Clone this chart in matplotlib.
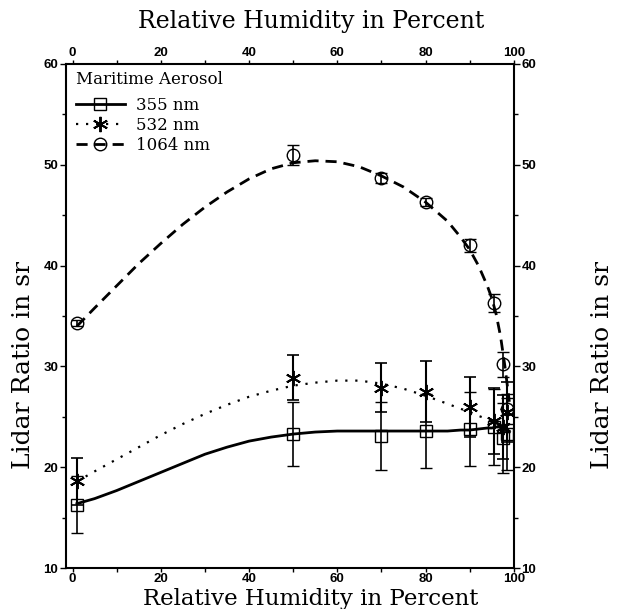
import matplotlib
matplotlib.use("Agg")
import matplotlib.pyplot as plt
from matplotlib.ticker import MultipleLocator

# Messpunkte (Relative Feuchte in %, Lidar-Verhältnis in sr)
rh_355 = [1, 50, 70, 80, 90, 95.5, 97.5, 98.5]
lr_355 = [16.3, 23.3, 23.1, 23.6, 23.8, 24.0, 22.9, 23.3]
err_355 = [2.8, 3.2, 3.4, 3.7, 3.7, 3.8, 3.5, 3.6]

rh_532 = [1, 50, 70, 80, 90, 95.5, 97.5, 98.5]
lr_532 = [18.6, 28.9, 27.9, 27.5, 26.0, 24.6, 24.0, 25.5]
err_532 = [2.3, 2.2, 2.4, 3.0, 3.0, 3.3, 3.2, 3.0]

rh_1064 = [1, 50, 70, 80, 90, 95.5, 97.5, 98.5]
lr_1064 = [34.3, 51.0, 48.7, 46.3, 42.0, 36.3, 30.2, 25.8]
err_1064 = [0.3, 1.0, 0.5, 0.4, 0.6, 0.9, 1.2, 1.5]

# Ausgleichskurven
fit_x = [1, 5, 10, 15, 20, 25, 30, 35, 40, 45, 50, 55, 60, 65, 70, 75, 80, 85, 88, 90, 92, 94, 95, 96, 97, 98, 99]
fit_355 = [16.4, 16.9, 17.7, 18.6, 19.5, 20.4, 21.3, 22.0, 22.6, 23.0, 23.3, 23.5, 23.6, 23.6, 23.6, 23.6, 23.6, 23.6,
           23.7, 23.7, 23.8, 23.9, 23.9, 24.0, 24.0, 23.8, 23.5]
fit_532 = [18.6, 19.6, 20.8, 22.0, 23.2, 24.3, 25.3, 26.2, 27.0, 27.6, 28.1, 28.4, 28.6, 28.6, 28.3, 27.8, 27.1, 26.3,
           25.8, 25.5, 25.1, 24.8, 24.6, 24.4, 24.0, 23.7, 23.3]
fit_1064 = [34.0, 35.8, 38.0, 40.2, 42.2, 44.1, 45.8, 47.3, 48.6, 49.6, 50.2, 50.4, 50.3, 49.8, 48.9, 47.8, 46.3, 44.4,
            42.8, 41.6, 40.0, 38.0, 36.8, 35.2, 33.0, 30.0, 26.5]

serif = "DejaVu Serif"
fig = plt.figure(figsize=(6.22, 6.09), dpi=100)
ax = fig.add_axes([0.106, 0.067, 0.72, 0.828])

ax.plot(fit_x, fit_355, color="black", lw=2.0, ls="-")
ax.plot(fit_x, fit_532, color="black", lw=1.6, ls=(0, (1, 3.5)))
ax.plot(fit_x, fit_1064, color="black", lw=2.0, ls=(0, (4, 2.5)))

ax.errorbar(rh_355, lr_355, yerr=err_355, fmt="s", ms=9, mfc="none", mec="black", mew=1.0,
            ecolor="black", elinewidth=1.2, capsize=4, capthick=1.2)
ax.errorbar(rh_532, lr_532, yerr=err_532, fmt="none", ecolor="black", elinewidth=1.5, capsize=4, capthick=1.2)
ax.plot(rh_532, lr_532, ls="none", marker=(6, 2, 0), ms=11, mec="black", mew=1.4)
ax.errorbar(rh_1064, lr_1064, yerr=err_1064, fmt="o", ms=9, mfc="none", mec="black", mew=1.0,
            ecolor="black", elinewidth=1.2, capsize=4, capthick=1.2)

# Legende
h1, = ax.plot([], [], color="black", lw=2.0, marker="s", ms=9, mfc="none", mec="black")
h2, = ax.plot([], [], color="black", lw=1.6, ls=(0, (1, 3.5)), marker=(6, 2, 0), ms=11, mew=1.4)
h3, = ax.plot([], [], color="black", lw=2.0, ls=(0, (4, 2.5)), marker="o", ms=9, mfc="none", mec="black")
leg = ax.legend([h1, h2, h3], ["355 nm", "532 nm", "1064 nm"], loc="upper left", frameon=False,
                title="Maritime Aerosol", handlelength=2.9, handletextpad=0.7,
                bbox_to_anchor=(-0.003, 1.01), borderaxespad=0.3,
                prop={"family": serif, "size": 12}, labelspacing=0.16)
leg.get_title().set_fontfamily(serif)
leg.get_title().set_fontsize(12)
leg._legend_box.align = "left"
leg._legend_box.sep = 7

ax.set_xlim(-1.5, 100)
ax.set_ylim(10, 60)
ax.xaxis.set_major_locator(MultipleLocator(20))
ax.xaxis.set_minor_locator(MultipleLocator(10))
ax.yaxis.set_major_locator(MultipleLocator(10))
ax.yaxis.set_minor_locator(MultipleLocator(5))
ax.tick_params(which="both", direction="out", top=True, right=True,
               labeltop=True, labelright=True, width=1.0)
ax.tick_params(which="major", length=4, labelsize=9.5, pad=1.5)
ax.tick_params(axis="x", which="major", length=3, pad=0.5)
ax.tick_params(which="minor", length=3)
for lab in ax.get_xticklabels() + ax.get_yticklabels():
    lab.set_fontweight("bold")
    lab.set_fontfamily("Liberation Sans")
for sp in ax.spines.values():
    sp.set_linewidth(1.5)

# Achsenbeschriftungen auf allen vier Seiten
fig.text(0.50, 0.964, "Relative Humidity in Percent", fontfamily=serif, fontsize=17, ha="center", va="center")
fig.text(0.50, 0.006, "Relative Humidity in Percent", fontfamily=serif, fontsize=16.5, ha="center", va="baseline")
fig.text(0.037, 0.40, "Lidar Ratio in sr", fontfamily=serif, fontsize=18, rotation=90, ha="center", va="center")
fig.text(0.969, 0.40, "Lidar Ratio in sr", fontfamily=serif, fontsize=18, rotation=90, ha="center", va="center")

fig.savefig("out.png", dpi=100)
